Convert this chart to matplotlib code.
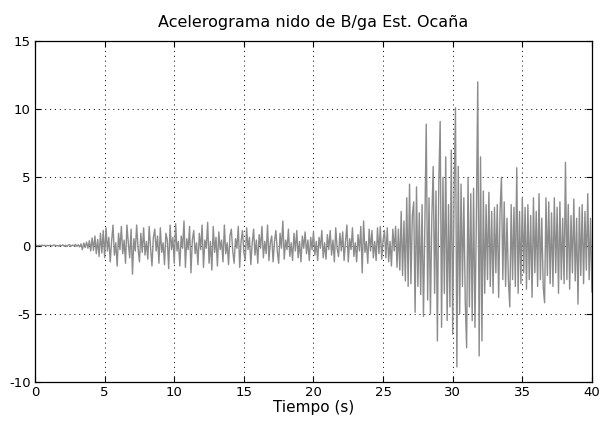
#!/usr/bin/env python3
"""Acelerograma nido de B/ga, estacion Ocana: trace read off the reference plot."""
import matplotlib

matplotlib.use("Agg")
import matplotlib.pyplot as plt
import numpy as np

plt.rcParams.update({
    "font.family": ["DejaVu Sans"],
    "font.size": 10,
    "axes.titlesize": 11.5,
    "axes.labelsize": 11,
    "xtick.labelsize": 9.5,
    "ytick.labelsize": 9.5,
    "axes.unicode_minus": False,
})

DT = 0.1  # sample spacing (s) of the values

# one row per second of record
ACCEL = [
    0.00, 0.02, -0.03, 0.01, -0.02, 0.03, -0.01, 0.02, -0.04, 0.01,
    -0.02, 0.03, -0.05, 0.02, 0.04, -0.03, 0.01, -0.06, 0.03, -0.02,
    0.05, -0.04, 0.02, -0.07, 0.04, 0.06, -0.05, 0.03, -0.02, 0.08,
    -0.06, 0.05, -0.10, 0.12, -0.30, 0.18, -0.15, 0.25, -0.20, 0.35,
    -0.40, 0.55, -0.35, 0.70, -0.60, 0.45, -0.80, 0.90, -0.55, 1.10,
    -0.90, 1.30, -0.40, 0.60, -1.20, 0.30, 1.50, -0.70, 0.20, -1.50,
    0.90, -0.30, 1.40, -0.60, 0.40, -1.30, 1.50, 0.20, -0.90, 1.20,
    -2.10, 0.50, -0.40, 1.50, -0.20, -1.20, 0.90, -0.50, 1.30, -0.70,
    0.30, -1.00, 1.40, -0.20, -1.50, 0.60, 1.20, -0.40, 0.70, -1.30,
    1.30, -0.50, 0.20, -1.40, 0.90, 0.40, -1.70, 1.50, -0.30, 0.60,
    -1.30, 1.60, -0.40, 0.30, -1.50, 0.70, -0.20, 1.80, -1.60, 0.50,
    -0.30, 1.40, -2.00, 0.40, 1.10, -0.60, 0.20, -1.40, 0.90, -0.30,
    1.50, -1.60, 0.40, -0.20, 1.70, -1.30, 0.30, -1.80, 1.40, -0.50,
    0.60, -1.50, 1.00, -0.30, 0.40, -1.20, 1.50, -0.60, 0.20, -1.40,
    0.70, 1.20, -0.40, -1.30, 0.50, -0.20, 1.40, -1.60, 0.30, 1.10,
    -0.50, -1.10, 1.30, -0.30, 0.60, -1.40, 0.20, 1.20, -0.70, 0.40,
    -1.30, 0.80, -0.20, 1.40, -0.90, 0.30, -0.60, 1.50, -1.10, 0.20,
    0.70, -1.20, 0.30, 1.10, -0.40, -1.30, 0.90, -0.20, 1.80, -1.00,
    0.40, -0.30, 1.20, -0.80, 0.20, -1.10, 0.90, -0.40, 1.10, -0.90,
    0.30, -1.20, 0.70, -0.20, 1.00, -0.60, 0.40, -1.10, 0.60, -0.30,
    1.00, -0.70, 0.30, -1.10, 0.60, -0.20, 1.10, -0.90, 0.20, -1.00,
    0.80, -0.30, 1.10, -0.70, 0.40, -1.20, 1.30, -0.20, -0.80, 0.90,
    -0.40, 1.00, -1.10, 0.30, 1.50, -1.20, 0.50, -0.30, 1.30, -0.80,
    0.20, -1.20, 0.80, -0.40, 1.40, -2.00, 1.80, -0.50, 0.30, -1.30,
    1.20, -0.40, 1.10, -0.90, 0.30, -1.10, 1.30, -0.60, 1.40, -1.00,
    0.40, 1.10, -0.90, 1.30, -1.20, 0.30, -1.50, 1.20, -0.40, 1.40,
    -1.60, 1.20, -1.80, 2.50, -2.20, 1.80, -2.60, 3.50, -3.00, 4.50,
    -2.80, 2.20, 3.20, -4.90, 4.30, -3.00, 2.40, -3.60, 3.00, -5.20,
    1.50, 8.90, -4.00, 3.50, -5.00, 2.00, 5.80, -3.50, 4.00, -7.00,
    4.50, 9.10, -6.00, 5.00, -3.50, 6.50, -5.50, 3.00, -4.50, 7.00,
    -6.50, 4.00, 10.10, -8.90, 5.80, -5.00, 4.50, -3.00, 3.50, -4.00,
    -7.50, 5.00, -4.50, 3.80, -5.50, 4.20, -6.00, 2.00, 12.00, -8.10,
    6.50, -7.00, 4.00, -3.50, 3.00, -2.50, 3.90, -3.00, 2.50, -3.50,
    2.80, -2.00, 3.00, -3.80, 2.50, 5.00, -2.50, 3.20, -3.00, 2.00,
    -2.50, -4.50, 3.00, -2.50, 2.80, -3.00, 5.70, -3.50, 2.50, -2.80,
    3.50, -2.00, 2.80, -3.20, 3.00, -2.50, 2.20, -3.80, 3.50, -2.00,
    2.50, -3.00, 3.80, -2.50, 2.00, -3.00, -4.20, 3.50, -2.20, 3.20,
    -2.80, 2.40, -3.00, 3.50, -2.00, 2.80, -3.50, 3.20, -2.50, 2.00,
    -2.80, 6.10, -2.50, 3.00, -3.20, 2.20, -2.00, 3.40, -2.60, 2.00,
    -4.30, 2.80, -2.20, 3.00, -2.80, 2.50, -1.80, 3.80, -2.50, 2.00,
    -3.40,
]

XTICKS = [0, 5, 10, 15, 20, 25, 30, 35, 40]
YTICKS = [-10, -5, 0, 5, 10, 15]


def main() -> int:
    accel = np.array(ACCEL)
    t = np.arange(len(accel)) * DT

    fig = plt.figure(figsize=(6.04, 4.22), dpi=100)
    ax = fig.add_axes([0.058, 0.095, 0.922, 0.808])
    ax.plot(t, accel, color="#8c8c8c", linewidth=1.0)

    ax.set_xlim(0, 40)
    ax.set_ylim(-10, 15)
    ax.set_xticks(XTICKS)
    ax.set_yticks(YTICKS)
    ax.grid(True, linestyle=(0, (1, 4)), color="black", linewidth=0.7)
    ax.tick_params(direction="in", top=True, right=True, length=4, pad=3)
    for sp in ax.spines.values():
        sp.set_linewidth(0.9)

    ax.set_title("Acelerograma nido de B/ga Est. Ocaña", pad=10)
    ax.set_xlabel("Tiempo (s)", labelpad=1)

    fig.savefig("out.png", dpi=100)
    return 0


if __name__ == "__main__":
    raise SystemExit(main())
